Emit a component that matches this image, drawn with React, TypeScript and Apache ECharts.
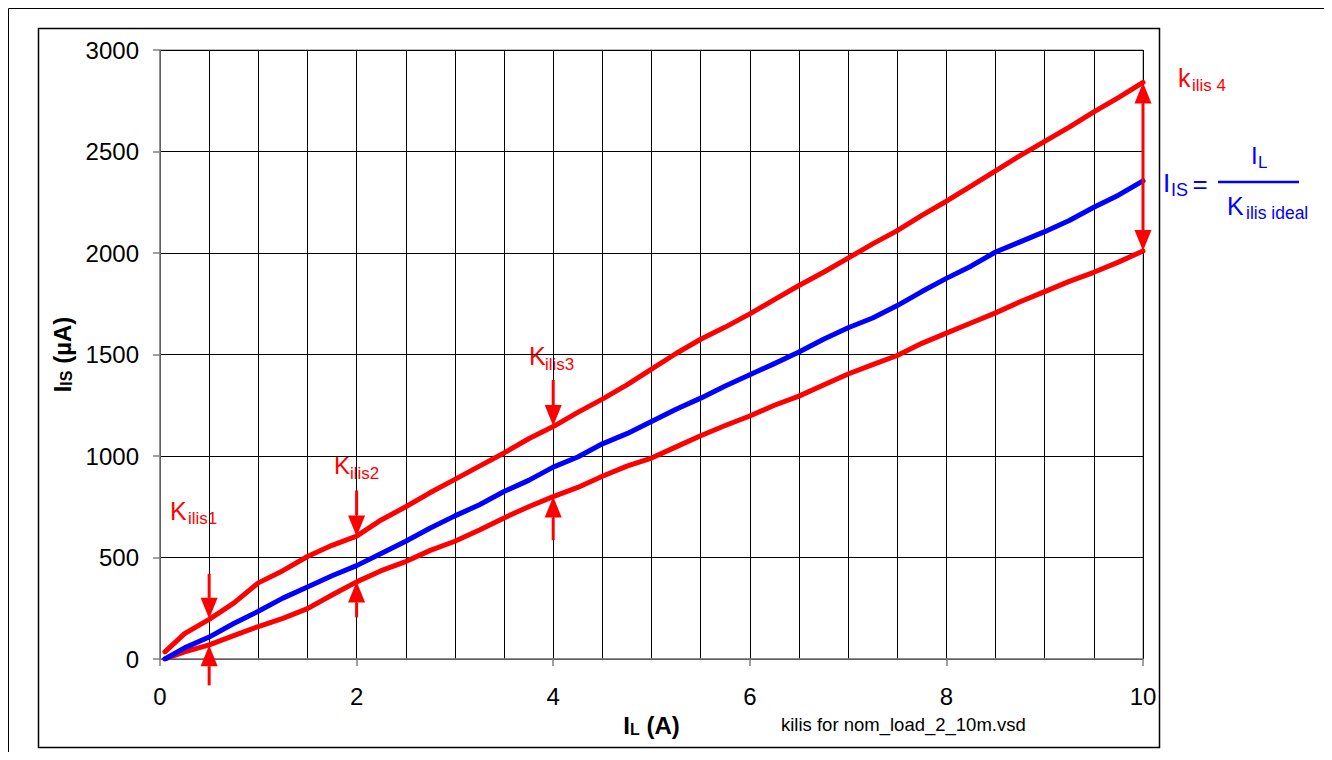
import React, { useEffect, useRef } from "react";
import * as echarts from "echarts";

// Load current I_L (A)
const loadCurrentA = [
  0.05, 0.25, 0.5, 0.75, 1, 1.25, 1.5, 1.75, 2, 2.25, 2.5, 2.75, 3, 3.25, 3.5, 3.75, 4,
  4.25, 4.5, 4.75, 5, 5.25, 5.5, 5.75, 6, 6.25, 6.5, 6.75, 7, 7.25, 7.5, 7.75, 8,
  8.25, 8.5, 8.75, 9, 9.25, 9.5, 9.75, 10,
];

// Upper limit curve (µA)
const upperIs = [
  35, 125, 195, 275, 375, 435, 505, 560, 605, 685, 750, 820, 885, 950, 1015, 1085, 1145,
  1215, 1280, 1350, 1428, 1505, 1575, 1635, 1700, 1770, 1840, 1905, 1975, 2045, 2110, 2185, 2255,
  2330, 2405, 2480, 2550, 2620, 2695, 2765, 2840,
];

// Ideal curve (µA)
const idealIs = [
  0, 55, 108, 175, 235, 300, 355, 410, 460, 520, 580, 645, 705, 760, 825, 880, 945,
  995, 1060, 1110, 1170, 1230, 1285, 1345, 1400, 1455, 1512, 1575, 1632, 1680, 1741, 1810, 1875,
  1935, 2005, 2055, 2105, 2160, 2225, 2285, 2355,
];

// Lower limit curve (µA)
const lowerIs = [
  0, 35, 70, 115, 160, 200, 248, 315, 380, 435, 480, 535, 580, 635, 695, 750, 800,
  845, 900, 950, 990, 1045, 1100, 1150, 1197, 1250, 1295, 1350, 1404, 1450, 1495, 1555, 1605,
  1655, 1705, 1760, 1810, 1860, 1905, 1955, 2010,
];

// Annotation arrows (data coordinates): x, tail value, tip value, double-headed
const arrowX = [0.5, 0.5, 2, 2, 4, 4, 10];
const arrowFrom = [420, -130, 830, 205, 1375, 585, 2840];
const arrowTo = [198, 68, 604, 382, 1148, 800, 2010];
const arrowBoth = [0, 0, 0, 0, 0, 0, 1];

const RED = "#ff0000";
const BLUE = "#0000ff";
const FONT = "'Liberation Sans', Arial, sans-serif";

function txt(x: number, y: number, text: string, size: number, color: string, extra: any = {}) {
  return {
    type: "text",
    x,
    y,
    silent: true,
    style: {
      text,
      fontSize: size,
      fontFamily: FONT,
      fill: color,
      align: "left",
      verticalAlign: "middle",
      ...extra,
    },
  };
}

function buildOption(): any {
  const pairs = (ys: number[]) => loadCurrentA.map((x, i) => [x, ys[i]]);
  const arrowData = arrowX.map((x, i) => [x, arrowFrom[i], arrowTo[i], arrowBoth[i]]);

  const lineSeries = (name: string, ys: number[], color: string) => ({
    name,
    type: "line",
    data: pairs(ys),
    showSymbol: false,
    symbol: "none",
    smooth: false,
    lineStyle: { color, width: 5, cap: "round", join: "round" },
    z: 3,
  });

  return {
    animation: false,
    backgroundColor: "#ffffff",
    grid: {
      left: 152,
      top: 42,
      width: 983,
      height: 609,
      show: true,
      borderColor: "#808080",
      borderWidth: 1,
    },
    xAxis: {
      type: "value",
      min: 0,
      max: 10,
      interval: 2,
      name: "{b|I}{s|L}{b| (A)}",
      nameLocation: "middle",
      nameGap: 54,
      nameTextStyle: {
        rich: {
          b: { fontSize: 24, fontWeight: "bold", fontFamily: FONT, color: "#000", lineHeight: 24, verticalAlign: "bottom" },
          s: { fontSize: 16, fontWeight: "bold", fontFamily: FONT, color: "#000", lineHeight: 8, verticalAlign: "bottom" },
        },
      },
      axisLine: { show: true, lineStyle: { color: "#808080", width: 1.5 } },
      axisTick: { show: true, inside: false, length: 7, lineStyle: { color: "#808080", width: 1.5 } },
      axisLabel: { fontSize: 24, color: "#000", fontFamily: FONT, margin: 25, formatter: (v: number) => String(v) },
      splitLine: { show: true, lineStyle: { color: "#000", width: 1 } },
      minorTick: { show: false, splitNumber: 4 },
      minorSplitLine: { show: true, lineStyle: { color: "#000", width: 1 } },
    },
    yAxis: {
      type: "value",
      min: 0,
      max: 3000,
      interval: 500,
      name: "{b|I}{s|IS}{b| (µA)}",
      nameLocation: "middle",
      nameGap: 86,
      nameRotate: 90,
      nameTextStyle: {
        rich: {
          b: { fontSize: 24, fontWeight: "bold", fontFamily: FONT, color: "#000", lineHeight: 24, verticalAlign: "bottom" },
          s: { fontSize: 16, fontWeight: "bold", fontFamily: FONT, color: "#000", lineHeight: 8, verticalAlign: "bottom" },
        },
      },
      axisLine: { show: true, lineStyle: { color: "#808080", width: 1.5 } },
      axisTick: { show: true, inside: false, length: 7, lineStyle: { color: "#808080", width: 1.5 } },
      axisLabel: { fontSize: 24, color: "#000", fontFamily: FONT, margin: 21, formatter: (v: number) => String(v) },
      splitLine: { show: true, lineStyle: { color: "#000", width: 1 } },
    },
    series: [
      lineSeries("lower", lowerIs, RED),
      lineSeries("ideal", idealIs, BLUE),
      lineSeries("upper", upperIs, RED),
      {
        name: "arrows",
        type: "custom",
        clip: false,
        z: 5,
        encode: { x: 0, y: [1, 2] },
        data: arrowData,
        renderItem: (params: any, api: any) => {
          const x = api.value(0);
          const p1 = api.coord([x, api.value(1)]);
          const p2 = api.coord([x, api.value(2)]);
          const both = api.value(3) === 1;
          const dir = Math.sign(p2[1] - p1[1]);
          const head = 21;
          const half = 8.5;
          const startY = both ? p1[1] + dir * head : p1[1];
          const endY = p2[1] - dir * head;
          const children: any[] = [
            {
              type: "line",
              shape: { x1: p1[0], y1: startY, x2: p2[0], y2: endY },
              style: { stroke: RED, lineWidth: 3 },
            },
            {
              type: "polygon",
              shape: { points: [[p2[0], p2[1]], [p2[0] - half, endY], [p2[0] + half, endY]] },
              style: { fill: RED },
            },
          ];
          if (both) {
            children.push({
              type: "polygon",
              shape: { points: [[p1[0], p1[1]], [p1[0] - half, startY], [p1[0] + half, startY]] },
              style: { fill: RED },
            });
          }
          return { type: "group", children };
        },
      },
    ],
    graphic: [
      // outer frame (bottom edge lies beyond the page)
      {
        type: "polyline",
        silent: true,
        shape: { points: [[0.5, 770], [0.5, 0.5], [1319.5, 0.5], [1319.5, 770]] },
        style: { stroke: "#000", lineWidth: 1, fill: null },
      },
      // inner frame
      {
        type: "rect",
        silent: true,
        shape: { x: 30.5, y: 20.5, width: 1121, height: 719 },
        style: { stroke: "#000", lineWidth: 1.5, fill: null },
      },
      // K ilis labels
      txt(162, 503, "K", 25, RED),
      txt(180, 510, "ilis1", 17, RED),
      txt(326, 457.5, "K", 24, RED),
      txt(342, 465, "ilis2", 17, RED),
      txt(521, 348, "K", 25, RED),
      txt(537, 356, "ilis3", 17, RED),
      txt(1170, 69.5, "k", 25, RED),
      txt(1184, 77, "ilis 4", 17, RED),
      // formula
      txt(1155, 175, "I", 26, BLUE),
      txt(1163, 182, "IS", 18, BLUE),
      txt(1184.5, 176, "=", 26, BLUE),
      {
        type: "line",
        silent: true,
        shape: { x1: 1210, y1: 174, x2: 1291, y2: 174 },
        style: { stroke: BLUE, lineWidth: 2.5 },
      },
      txt(1243, 147, "I", 24, BLUE),
      txt(1250, 154, "L", 17, BLUE),
      txt(1219, 198, "K", 25, BLUE),
      txt(1238, 205, "ilis ideal", 17.5, BLUE),
      // file name
      txt(773, 716, "kilis for nom_load_2_10m.vsd", 18.5, "#000"),
    ],
  };
}

export default function App() {
  const ref = useRef<HTMLDivElement>(null);
  useEffect(() => {
    if (!ref.current) return;
    const chart = echarts.init(ref.current, null, { renderer: "svg" });
    chart.setOption(buildOption());
    return () => {
      chart.dispose();
    };
  }, []);
  return <div ref={ref} style={{ width: 1322, height: 752, marginBottom: -8 }} />;
}
